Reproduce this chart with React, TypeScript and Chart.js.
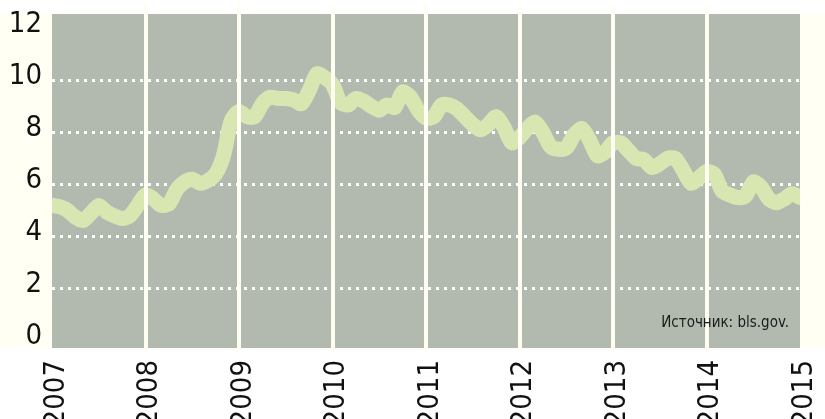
import React, { useEffect, useRef } from "react";
import { Chart, registerables } from "chart.js";

Chart.register(...registerables);

// Year labels on the x axis (one per 12 months)
const YEARS = ["2007", "2008", "2009", "2010", "2011", "2012", "2013", "2014", "2015"];
// Y axis tick labels
const Y_TICKS = [0, 2, 4, 6, 8, 10, 12];
// Monthly unemployment rate, %, Jan 2007 .. Jan 2015
const RATE = [
  5.2, 5.15, 5.0, 4.75, 4.62, 4.9, 5.2, 4.95, 4.8, 4.7, 4.8, 5.2,
  5.6, 5.45, 5.2, 5.25, 5.8, 6.1, 6.2, 6.05, 6.15, 6.4, 7.1, 8.45,
  8.8, 8.6, 8.6, 9.1, 9.35, 9.3, 9.3, 9.25, 9.1, 9.6, 10.25, 10.1,
  9.85, 9.15, 9.05, 9.3, 9.2, 9.0, 8.85, 9.05, 8.95, 9.55, 9.35, 8.85,
  8.55, 8.6, 9.05, 9.05, 8.9, 8.6, 8.3, 8.1, 8.3, 8.6, 8.2, 7.6,
  7.8, 8.15, 8.4, 8.0, 7.45, 7.35, 7.4, 7.9, 8.15, 7.7, 7.1, 7.25,
  7.6, 7.6, 7.3, 7.0, 6.95, 6.65, 6.8, 7.0, 7.0, 6.55, 6.05, 6.25,
  6.5, 6.4, 5.75, 5.6, 5.5, 5.55, 6.1, 5.9, 5.45, 5.3, 5.45, 5.65,
  5.5,
];
const SOURCE = "Источник: bls.gov.";

const FONT = "'Liberation Sans Narrow', 'DejaVu Sans Condensed', 'Roboto', sans-serif";
const CANVAS_W = 825;
const CANVAS_H = 460;

const decor = {
  id: "decor",
  beforeDraw(chart: any) {
    const { ctx, chartArea: a, width, height } = chart;
    ctx.save();
    ctx.fillStyle = "#ffffff";
    ctx.fillRect(0, 0, width, height);
    ctx.fillStyle = "#fffff3";
    ctx.fillRect(0, a.top, width, a.bottom - a.top);
    ctx.fillStyle = "#b2baaf";
    ctx.fillRect(a.left, a.top, a.right - a.left, a.bottom - a.top);
    ctx.restore();
  },
  afterDatasetsDraw(chart: any) {
    const { ctx, chartArea: a } = chart;
    const xs = chart.scales.x;
    ctx.save();
    ctx.strokeStyle = "#fffef2";
    ctx.lineWidth = 4;
    xs.ticks.forEach((t: any) => {
      const px = Math.round(xs.getPixelForValue(t.value));
      if (px <= a.left + 2 || px >= a.right - 2) return;
      ctx.beginPath();
      ctx.moveTo(px, a.top - 9);
      ctx.lineTo(px, a.bottom + 5);
      ctx.stroke();
    });
    ctx.fillStyle = "#1a1a1a";
    ctx.font = `15px ${FONT}`;
    ctx.textAlign = "right";
    ctx.textBaseline = "alphabetic";
    ctx.fillText(SOURCE, a.right - 11, a.bottom - 21);
    ctx.restore();
  },
};

export default function App() {
  const ref = useRef<HTMLCanvasElement | null>(null);

  useEffect(() => {
    document.body.style.margin = "0";
    const canvas = ref.current;
    if (!canvas) return;
    const chart = new Chart(canvas, {
      type: "line",
      data: {
        datasets: [
          {
            data: RATE.map((v, i) => ({ x: i, y: v })),
            borderColor: "#d8e7b2",
            borderWidth: 15,
            pointRadius: 0,
            tension: 0.25,
            borderJoinStyle: "round",
            borderCapStyle: "round",
            fill: false,
          },
        ],
      },
      options: {
        animation: false,
        responsive: false,
        devicePixelRatio: 1,
        layout: { padding: { top: 14, right: 25, left: 0, bottom: 0 } },
        plugins: {
          legend: { display: false },
          tooltip: { enabled: false },
        },
        scales: {
          x: {
            type: "linear",
            min: 0,
            max: (YEARS.length - 1) * 12,
            afterBuildTicks: (scale: any) => {
              scale.ticks = YEARS.map((_, i) => ({ value: i * 12 }));
            },
            afterFit: (scale: any) => {
              scale.height = CANVAS_H - 348;
              scale.paddingLeft = 0;
              scale.paddingRight = 0;
            },
            grid: { display: false, drawTicks: false },
            border: { display: false },
            ticks: {
              autoSkip: false,
              minRotation: 90,
              maxRotation: 90,
              padding: 12,
              labelOffset: 4,
              color: "#111111",
              font: { family: FONT, size: 29 },
              callback: (_v: any, i: number) => YEARS[i],
            },
          },
          y: {
            min: -0.27,
            max: 12.54,
            afterBuildTicks: (scale: any) => {
              scale.ticks = Y_TICKS.map((v) => ({ value: v }));
            },
            afterFit: (scale: any) => {
              scale.width = 52;
              scale.paddingTop = 0;
              scale.paddingBottom = 0;
            },
            grid: {
              drawTicks: false,
              lineWidth: 3,
              color: (c: any) =>
                c.tick && (c.tick.value === 0 || c.tick.value === 12) ? "rgba(0,0,0,0)" : "#ffffff",
            },
            border: { display: false, dash: [3, 5] },
            ticks: {
              padding: 10,
              labelOffset: -4,
              color: "#111111",
              font: { family: FONT, size: 29 },
              callback: (v: any) => String(v),
            },
          },
        },
      },
      plugins: [decor],
    });
    return () => chart.destroy();
  }, []);

  return (
    <div style={{ width: CANVAS_W, height: 419, overflow: "hidden" }}>
      <canvas ref={ref} width={CANVAS_W} height={CANVAS_H} style={{ display: "block" }} />
    </div>
  );
}
